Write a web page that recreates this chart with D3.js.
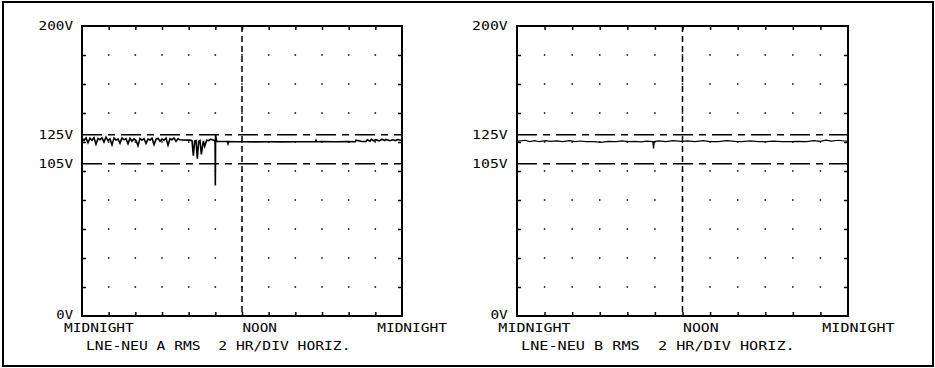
<!DOCTYPE html>
<html>
<head>
<meta charset="utf-8">
<script src="https://cdn.jsdelivr.net/npm/d3@7"></script>
<style>
body { margin: 0; background: #fff; }
svg text { font-family: "DejaVu Sans Mono", monospace; font-size: 12px; fill: #000; white-space: pre; }
</style>
</head>
<body>
<div id="chart"></div>
<script>
///////////////////////////////////////////////////////////////////////////////
//// Data /////////////////////////////////////////////////////////////////////
///////////////////////////////////////////////////////////////////////////////
const hourTicks = [0, 2, 4, 6, 8, 10, 12, 14, 16, 18, 20, 22, 24];
const voltTicks = [0, 20, 40, 60, 80, 100, 120, 140, 160, 180, 200];
const voltLabels = [200, 125, 105, 0];
const limitLines = [125, 105];
const timeLabels = ["MIDNIGHT", "NOON", "MIDNIGHT"];
const timeLabelHours = [0, 12, 24];
const panelTitles = ["LNE-NEU A RMS  2 HR/DIV HORIZ.", "LNE-NEU B RMS  2 HR/DIV HORIZ."];

// Phase A (hours, volts)
const timesA = [
	0, 0.15, 0.3, 0.45, 0.6, 0.75, 0.9, 1.05, 1.2, 1.35,
	1.5, 1.65, 1.8, 1.95, 2.1, 2.25, 2.4, 2.55, 2.7, 2.85,
	3, 3.15, 3.3, 3.45, 3.6, 3.75, 3.9, 4.05, 4.2, 4.35,
	4.5, 4.65, 4.8, 4.95, 5.1, 5.25, 5.4, 5.55, 5.7, 5.85,
	6, 6.15, 6.3, 6.45, 6.6, 6.75, 6.9, 7.05, 7.2, 7.35,
	7.5, 8.1, 8.25, 8.35, 8.45, 8.55, 8.65, 8.75, 8.85, 8.95,
	9.1, 9.2, 9.35, 9.5, 9.65, 9.8, 9.95, 9.98, 10.0, 10.02,
	10.1, 10.6, 10.9, 10.95, 11.0, 11.5, 12, 13, 14, 15,
	16, 17, 17.5, 17.55, 17.6, 18, 19, 20, 20.5, 20.55,
	21, 21.3, 21.4, 21.6, 21.7, 21.9, 22, 22.3, 22.5, 22.7,
	22.8, 23.1, 23.3, 23.5, 23.7, 23.9, 24
];
const voltsA = [
	122.5, 121.0, 122.8, 119.5, 122.6, 121.2, 123.0, 118.5, 122.4, 121.5,
	122.9, 120.0, 123.4, 121.0, 122.2, 118.0, 122.7, 121.3, 122.0, 119.2,
	122.8, 121.5, 122.3, 118.8, 122.6, 120.6, 122.1, 121.0, 117.5, 122.5,
	121.2, 122.4, 119.0, 122.0, 121.4, 122.6, 118.2, 121.8, 122.5, 120.5,
	122.0, 121.2, 122.7, 117.8, 122.3, 121.6, 122.8, 120.4, 122.2, 121.5,
	121.4, 121.3, 121.0, 110.5, 120.8, 121.0, 108.5, 120.5, 121.0, 111.5,
	120.8, 117.0, 121.2, 121.0, 122.0, 121.3, 121.0, 120.5, 90.0, 124.8,
	120.4, 120.3, 120.3, 118.8, 120.3, 120.2, 120.2, 120.1, 120.2, 120.1,
	120.2, 120.2, 120.2, 121.2, 120.2, 120.3, 120.2, 120.3, 120.2, 121.3,
	120.3, 120.4, 121.5, 120.6, 121.8, 120.7, 121.6, 120.8, 121.9, 121.0,
	121.8, 120.9, 121.5, 121.0, 121.7, 121.2, 121.3
];

// Phase B (hours, volts)
const timesB = [
	0, 0.6, 0.9, 1.3, 1.6, 2.1, 2.4, 2.9, 3.3, 3.8,
	4.2, 4.6, 5.0, 5.6, 6.1, 6.6, 7.2, 7.6, 8.1, 8.5,
	9.0, 9.4, 9.85, 9.9, 9.95, 10.3, 10.8, 11.3, 11.9, 12.4,
	12.9, 13.5, 14.0, 14.6, 15.2, 15.8, 16.3, 16.9, 17.5, 18.1,
	18.6, 19.2, 19.8, 20.4, 21.0, 21.5, 22.0, 22.4, 22.8, 23.3,
	23.7, 24
];
const voltsB = [
	120.4, 121.2, 120.3, 120.9, 120.2, 121.0, 120.4, 120.8, 120.3, 121.0,
	120.2, 120.7, 120.3, 120.2, 119.8, 120.4, 120.3, 120.8, 120.2, 120.4,
	120.1, 120.6, 120.3, 115.6, 120.3, 120.8, 120.2, 120.9, 120.4, 120.8,
	120.3, 121.0, 120.2, 120.3, 120.9, 120.4, 120.2, 120.8, 120.3, 120.2,
	120.6, 120.3, 120.2, 120.4, 120.3, 121.0, 120.5, 121.3, 120.6, 121.2,
	120.7, 120.6
];

///////////////////////////////////////////////////////////////////////////////
//// Set Up ///////////////////////////////////////////////////////////////////
///////////////////////////////////////////////////////////////////////////////
const W = 935, H = 368;
const plotTop = 26, plotBottom = 316;
const charW = 8.85; // width of one character cell of the plotter font

const svg = d3.select("#chart").append("svg")
		.attr("width", W)
		.attr("height", H);

// Outer frame
svg.append("rect")
		.attr("x", 3)
		.attr("y", 2)
		.attr("width", 930)
		.attr("height", 364)
		.style("fill", "none")
		.style("stroke", "#000")
		.style("stroke-width", 2);

renderPanel(timesA, voltsA, panelTitles[0], 82, 320, 1.6);
renderPanel(timesB, voltsB, panelTitles[1], 517, 331, 1.2);

///////////////////////////////////////////////////////////////////////////////
//// Panel ////////////////////////////////////////////////////////////////////
///////////////////////////////////////////////////////////////////////////////
function renderPanel(times, volts, title, left, width, traceWidth) {
	const sx = width / 320; // panel B is drawn slightly wider
	const x = d3.scaleLinear().domain([0, 24]).range([left, left + width]);
	const y = d3.scaleLinear().domain([0, 200]).range([plotBottom, plotTop]);
	const g = svg.append("g");

	const innerHours = hourTicks.slice(1, -1);
	const innerVolts = voltTicks.slice(1, -1);

	// Grid dots
	innerHours.forEach(h => {
		g.selectAll(null)
			.data(innerVolts)
			.enter().append("rect")
				.attr("x", x(h) - 0.75)
				.attr("y", v => y(v) - 0.75)
				.attr("width", 1.5)
				.attr("height", 1.5)
				.style("fill", "#000");
	});

	// Inward ticks on all four sides
	const noDomain = s => s.select(".domain").remove();
	g.append("g")
			.attr("transform", `translate(0, ${y(200)})`)
			.call(d3.axisTop(x).tickValues(innerHours).tickSize(-4).tickFormat(""))
			.call(noDomain);
	g.append("g")
			.attr("transform", `translate(0, ${y(0)})`)
			.call(d3.axisBottom(x).tickValues(innerHours).tickSize(-4).tickFormat(""))
			.call(noDomain);
	g.append("g")
			.attr("transform", `translate(${x(0)}, 0)`)
			.call(d3.axisLeft(y).tickValues(innerVolts).tickSize(-4).tickFormat(""))
			.call(noDomain);
	g.append("g")
			.attr("transform", `translate(${x(24)}, 0)`)
			.call(d3.axisRight(y).tickValues(innerVolts).tickSize(-4).tickFormat(""))
			.call(noDomain);
	g.selectAll(".tick line").style("stroke-width", 1.5);

	// Noon line
	g.append("line")
			.attr("x1", x(12))
			.attr("x2", x(12))
			.attr("y1", y(200))
			.attr("y2", y(0))
			.style("stroke", "#000")
			.style("stroke-width", 1.5)
			.style("stroke-dasharray", "6,4");

	// Limit lines
	g.selectAll(".limit")
		.data(limitLines)
		.enter().append("line")
			.attr("class", "limit")
			.attr("x1", x(0))
			.attr("x2", x(24))
			.attr("y1", d => y(d))
			.attr("y2", d => y(d))
			.style("stroke", "#000")
			.style("stroke-width", 1.5)
			.style("stroke-dasharray", "20,6,7,6");

	// Frame
	g.append("rect")
			.attr("x", x(0))
			.attr("y", y(200))
			.attr("width", x(24) - x(0))
			.attr("height", y(0) - y(200))
			.style("fill", "none")
			.style("stroke", "#000")
			.style("stroke-width", 2);

	// Trace
	const line = d3.line()
		.x(i => x(times[i]))
		.y(i => y(volts[i]));
	g.append("path")
			.attr("d", line(d3.range(times.length)))
			.style("fill", "none")
			.style("stroke", "#000")
			.style("stroke-width", traceWidth)
			.style("stroke-linejoin", "miter");

	// Volt labels
	g.selectAll(".vlabel")
		.data(voltLabels)
		.enter().append("text")
			.attr("class", "vlabel")
			.attr("x", x(0) - 9 * sx)
			.attr("y", d => d === 0 ? y(d) + 3 : y(d) + 4)
			.attr("text-anchor", "end")
			.attr("textLength", d => ((d + "V").length * charW - 1) * sx)
			.attr("lengthAdjust", "spacingAndGlyphs")
			.text(d => d + "V");

	// Time labels
	g.selectAll(".tlabel")
		.data(timeLabels)
		.enter().append("text")
			.attr("class", "tlabel")
			.attr("x", (d, i) => i === 0 ? x(timeLabelHours[i]) - 18 * sx
				: i === 1 ? x(timeLabelHours[i]) + 0.5 : x(timeLabelHours[i]) + 45 * sx)
			.attr("y", y(0) + 15.5)
			.attr("text-anchor", (d, i) => i === 2 ? "end" : "start")
			.attr("textLength", d => (d.length * charW - 1) * sx)
			.attr("lengthAdjust", "spacingAndGlyphs")
			.text(d => d);

	// Panel title
	g.append("text")
			.attr("x", x(0) + 4 * sx)
			.attr("y", y(0) + 34)
			.attr("textLength", (title.length * charW - 1) * sx)
			.attr("lengthAdjust", "spacingAndGlyphs")
			.text(title);
}
</script>
</body>
</html>
